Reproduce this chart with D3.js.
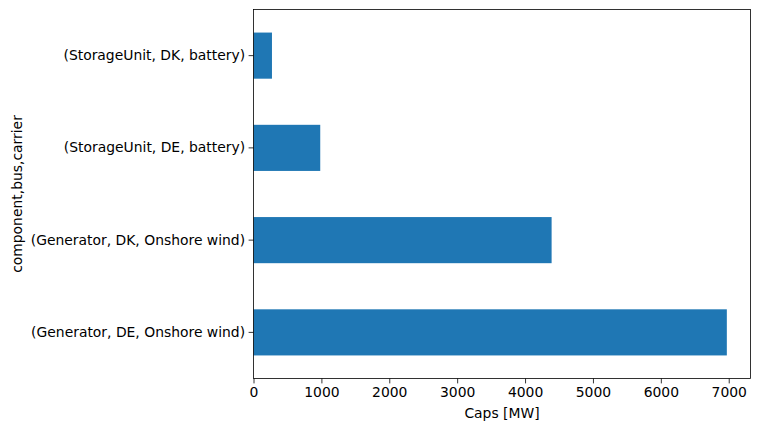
<!DOCTYPE html>
<html><head><meta charset="utf-8">
<script src="https://cdn.jsdelivr.net/npm/d3@7"></script>
<style>body{margin:0;background:#fff}svg{display:block}text{font-family:"DejaVu Sans",sans-serif}</style>
</head><body><svg id="c" width="759" height="432"></svg>
<script>
const categories = ["(Generator, DE, Onshore wind)", "(Generator, DK, Onshore wind)", "(StorageUnit, DE, battery)", "(StorageUnit, DK, battery)"];
const values = [6972, 4391, 983, 272];
const xTicks = [0, 1000, 2000, 3000, 4000, 5000, 6000, 7000];
const xLabel = "Caps [MW]";
const yLabel = "component,bus,carrier";

const svg = d3.select("#c");
const L = 253.5, R = 750.5, T = 9.5, B = 378.5;
const maxV = d3.max(values);
const x = d3.scaleLinear().domain([0, maxV * 1.05]).range([L, R]);
const y = d3.scaleBand().domain(categories.slice().reverse()).range([T, B]).paddingInner(0.5).paddingOuter(0.25);

svg.selectAll("rect.bar").data(categories).join("rect").attr("class", "bar")
  .attr("x", x(0)).attr("y", d => y(d)).attr("height", y.bandwidth())
  .attr("width", (d, i) => x(values[i]) - x(0)).attr("fill", "#1f77b4");

const xa = svg.append("g").attr("transform", `translate(0,${B})`)
  .call(d3.axisBottom(x).tickValues(xTicks).tickFormat(d3.format("d")).tickSizeOuter(0).tickSize(4.9).tickPadding(3.5));
const ya = svg.append("g").attr("transform", `translate(${L},0)`)
  .call(d3.axisLeft(y).tickSizeOuter(0).tickSize(4.9).tickPadding(3.5));
[xa, ya].forEach(a => {
  a.select(".domain").remove();
  a.selectAll("line").attr("stroke", "#000").attr("stroke-width", 0.8);
  a.selectAll("text").attr("font-size", "13.9px").attr("fill", "#000").attr("font-family", "DejaVu Sans, sans-serif");
});
svg.append("rect").attr("x", L).attr("y", T).attr("width", R - L).attr("height", B - T)
  .attr("fill", "none").attr("stroke", "#000").attr("stroke-width", 0.8);

svg.append("text").attr("x", (L + R) / 2).attr("y", 418).attr("text-anchor", "middle")
  .attr("font-size", "13.9px").attr("fill", "#000").text(xLabel);
svg.append("text").attr("transform", `translate(21.5,${(T + B) / 2}) rotate(-90)`).attr("text-anchor", "middle")
  .attr("font-size", "13.9px").attr("fill", "#000").text(yLabel);
</script></body></html>
